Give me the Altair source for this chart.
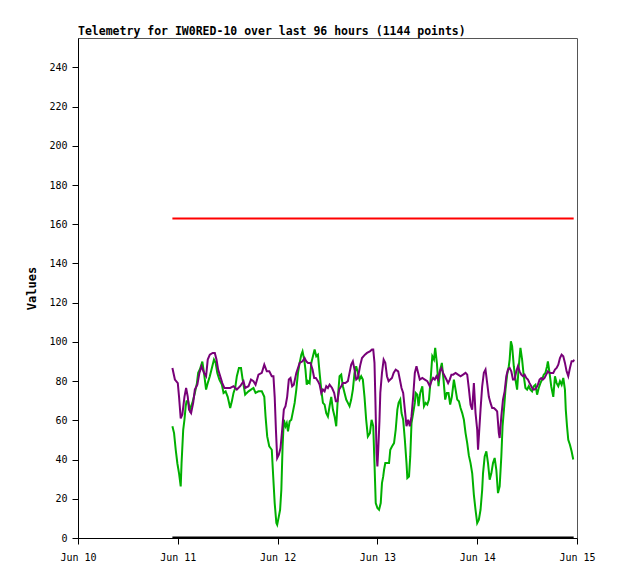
import altair as alt
import pandas as pd

# hours since Jun 10 00:00
P_H = [22.7,23.3,24.0,24.3,24.7,25.1,25.6,26.0,26.4,26.7,27.2,27.7,28.1,28.7,29.2,29.7,30.3,30.8,31.2,31.7,
       32.4,32.9,33.3,33.7,34.2,34.7,35.2,35.8,36.6,37.4,38.2,39.0,39.8,40.2,41.0,41.6,42.2,42.7,43.4,44.2,
       44.8,45.4,46.0,46.6,47.0,47.3,47.6,47.9,48.3,48.7,49.1,49.5,49.9,50.3,50.7,51.1,51.5,51.9,52.5,52.9,
       53.3,54.0,54.5,54.9,55.3,55.9,56.4,56.8,57.2,57.7,58.1,58.5,58.9,59.3,59.7,60.1,60.5,61.1,61.6,62.0,
       62.4,62.8,63.3,63.7,64.3,64.9,65.3,65.7,66.1,66.5,66.9,67.3,67.9,68.3,69.0,69.5,70.2,70.7,71.0,71.3,
       71.5,71.8,72.0,72.2,72.5,72.7,73.1,73.5,73.9,74.3,74.7,75.1,75.5,75.9,76.4,77.0,77.4,77.8,78.2,78.6,
       79.0,79.4,79.8,80.2,80.6,81.0,81.4,81.8,82.2,82.8,83.4,84.0,84.6,85.0,85.4,85.8,86.2,86.6,87.0,87.4,
       87.8,88.2,88.6,89.0,89.4,89.8,90.2,90.8,91.4,92.0,92.6,93.2,93.6,94.0,94.4,94.8,95.2,95.6,96.0,96.2,
       96.5,96.8,97.2,97.6,98.0,98.4,98.8,99.2,99.6,100.0,100.4,100.8,101.2,101.4,101.8,102.2,102.6,103.0,
       103.4,103.8,104.2,104.6,105.0,105.4,105.8,106.2,106.6,107.0,107.4,107.8,108.2,108.6,109.0,109.4,
       109.8,110.2,110.6,111.0,111.4,111.8,112.2,112.6,113.0,113.4,113.8,114.3,114.7,115.1,115.5,115.9,
       116.3,116.7,117.1,117.5,117.9,118.3,118.7,119.1,119.3]
P_V = [86.7,80.8,79,72,61,63,72,76.5,72,65.5,63.7,68.9,75.7,78.2,84.2,87.6,84.2,82.5,91,93.5,
       94.4,94.4,91,85.9,82.5,79,76.5,76.5,76.5,77.4,75.7,77.4,80,76.5,77.4,80.8,80,78.2,83.3,84.2,
       88.4,85,85,82.5,82.5,72,55,40.8,42.5,45.9,55.2,65.5,67.2,72,80.8,81.6,77.4,78.2,84.2,86.7,
       89.3,90.1,91.8,90.1,89.3,89.3,85.9,81.6,81.6,80,78.2,74,75.7,74.8,77.4,76.5,78.2,76.5,74,69.7,
       69.7,75.7,77.4,79,79,80,84.2,88.4,90.1,85.9,80.8,81.6,88.4,91.8,93.5,94.4,95.2,96.1,96.1,89.3,
       72,43.3,36.5,45,60,74,84.2,91,89.3,82.5,80,80.8,81.6,84.2,85.9,85,80.8,76.5,74,65.5,
       57,60.3,57,62,72,84.2,87.6,84.2,80.8,81.6,80.8,80,77.4,80,81.6,80.8,82.5,80.8,85,86.7,
       84.2,82.5,80.8,79,80.8,83.3,83.3,84.2,83.3,82.5,83.3,84.2,83.3,76,68,65.5,79,63.7,55.2,45,
       55.2,65.5,77.4,84.2,85.9,79,72,68.9,66.3,66.3,65.5,64.6,53.5,51,62,70.6,74.8,82.5,
       85.9,86.7,85,80.8,80.8,85,87.6,85,83.3,82.5,83.3,81.6,80.8,79,77.4,75.7,
       75.7,76.5,78.2,80.8,81.6,80.8,81.6,83.3,85,84.2,84.2,84.2,85.9,86.7,88.4,91.8,
       93.5,92.7,89.3,85,82.5,86.7,90.1,90.1,91]

G_H = [22.7,23.1,23.5,23.9,24.3,24.7,24.9,25.3,25.6,25.9,26.1,26.5,26.9,27.5,28.1,28.6,28.9,29.3,29.9,30.3,
       30.8,31.2,31.7,32.3,32.7,33.1,33.5,34.0,34.6,35.0,35.5,36.0,36.6,37.0,37.4,37.8,38.2,38.7,39.2,39.6,
       40.2,40.6,41.0,41.6,42.2,42.7,43.4,44.2,44.8,45.1,45.5,46.0,46.6,46.9,47.3,47.7,47.9,48.3,48.6,48.9,
       49.2,49.5,49.9,50.2,50.5,50.9,51.3,51.7,52.1,52.5,52.9,53.3,53.7,54.0,54.4,54.7,55.0,55.3,55.7,56.1,
       56.5,56.9,57.3,57.7,58.1,58.5,58.9,59.3,59.7,60.1,60.5,60.9,61.3,61.7,62.1,62.5,62.9,63.3,63.7,64.1,
       64.5,64.9,65.3,65.7,66.1,66.5,66.9,67.3,67.7,68.1,68.5,68.9,69.3,69.7,70.2,70.6,71.0,71.3,71.6,72.0,
       72.4,72.8,73.1,73.4,73.6,73.9,74.4,74.8,75.1,75.5,76.0,76.4,76.8,77.1,77.5,77.8,78.2,78.6,79.0,79.2,
       79.6,79.9,80.2,80.6,81.0,81.2,81.6,81.9,82.3,82.8,83.2,83.6,84.0,84.4,84.8,85.2,85.6,85.9,86.3,86.7,
       87.1,87.5,87.9,88.3,88.7,89.1,89.5,89.9,90.4,90.8,91.2,91.6,92.0,92.4,92.8,93.2,93.6,94.0,94.4,94.8,
       95.2,95.6,96.0,96.4,96.8,97.2,97.4,97.8,98.2,98.6,99.0,99.4,99.8,100.2,100.6,101.0,101.4,101.8,102.1,
       102.5,102.8,103.2,103.6,103.8,104.1,104.4,104.8,105.2,105.6,106.0,106.4,106.8,107.2,107.6,108.0,
       108.4,108.8,109.2,109.6,110.0,110.4,110.8,111.2,111.6,112.0,112.4,112.8,113.0,113.4,113.8,114.3,
       114.7,115.1,115.5,115.9,116.3,116.7,117.1,117.3,117.6,117.9,118.3,118.7,119.1]
G_V = [57,53.5,45,38,33,26.3,38,55.2,60.3,67.2,69.7,69.7,65.5,68.9,74,79,84.2,85.9,90,84.2,
       75.7,79,82.5,87.6,91,89.3,84.2,80.8,78.2,74,74.8,72,66.3,69.7,74,76.5,82.5,86.7,86.7,80.8,
       73.1,74,74.8,75.7,76.5,74,74.8,74.8,72,62,51.8,46.7,45,33,17.8,7.6,6.7,11,14.4,24.6,
       46.7,60.3,57,58.6,54.4,59.5,60.3,64.6,68.9,75.7,84.2,89.3,93.5,95.2,91,85.9,78.2,80,79,89.3,
       92.7,96.1,92.7,93.5,84.2,75.7,68.9,68,63.7,62,67.2,72,65.5,62,57,72,82.5,83.3,77.4,74,
       70.6,68.9,67.2,70.6,75.7,84.2,87.6,84.2,80.8,82.5,80.8,72,60.3,51.8,53.5,60.3,57,38,17.8,15.3,
       14.4,17.8,28,31.4,34.8,38.2,38.2,38.2,45,46.7,48.4,55.2,65.5,68.9,70.6,63.7,60.3,50.1,38.2,30.6,
       31.4,41.6,58.6,63.7,68.9,74,73.1,67.2,74,77.4,67.2,68.9,68,70.6,80.8,92.7,91,97,89.3,77.4,
       85.9,89.3,80.8,70.6,74,74,68,72,80.8,75.7,70.6,69.7,66.3,63.7,60.3,53.5,48.4,42,38.2,33,
       22,14.4,7.6,9.3,14.4,24.6,33,41.6,44.2,38.2,29.7,33,38.2,40.8,34.8,22.9,26.3,41.6,57,
       67.2,75.7,83.3,87.6,91,100.3,97.8,87.6,80.8,75.7,87.6,97,91,82.5,76.5,75.7,
       77.4,75.7,74.8,77.4,78.2,73.1,76.5,79,80.8,83.3,84.2,87.6,90.1,84.2,77.4,72,
       82.5,79,77.4,80,78.2,81.6,75.7,65.5,57,50.1,47.6,44.2,40]

R_H = [22.7, 119.2]
R_V = [163, 163]
K_H = [22.7, 119.2]
K_V = [0, 0]

BASE = pd.Timestamp("2023-06-10 00:00:00")


def frame(hours, values):
    t = [(BASE + pd.Timedelta(hours=h)).strftime("%Y-%m-%dT%H:%M:%S") for h in hours]
    return pd.DataFrame({"t": t, "v": values})


FONT = "DejaVu Sans Mono"

x_enc = alt.X(
    "t:T",
    scale=alt.Scale(domain=[alt.DateTime(year=2023, month=6, date=10),
                            alt.DateTime(year=2023, month=6, date=15)]),
    axis=alt.Axis(title=None, format="%b %d", tickCount={"interval": "day", "step": 1},
                  grid=False, tickSize=6, tickColor="black", domainColor="black",
                  labelFont=FONT, labelFontSize=10, labelColor="black", labelPadding=8,
                  labelFlush=False, labelOverlap=False),
)
y_enc = alt.Y(
    "v:Q",
    scale=alt.Scale(domain=[0, 255], nice=False, zero=True),
    axis=alt.Axis(title="Values", values=list(range(0, 241, 20)), grid=False, tickSize=6,
                  tickColor="black", domainColor="black", labelFont=FONT, labelFontSize=10,
                  labelColor="black", labelPadding=5, titleFont=FONT, titleFontSize=12,
                  titleFontWeight="bold", titleColor="black", titlePadding=10),
)


def line(df, color, width=2):
    return alt.Chart(df).mark_line(color=color, strokeWidth=width, clip=True).encode(x=x_enc, y=y_enc)


chart = alt.layer(
    line(frame(R_H, R_V), "#ff0000"),
    line(frame(G_H, G_V), "#00b000"),
    line(frame(P_H, P_V), "#780078"),
    line(frame(K_H, K_V), "#000000", 3),
).properties(
    width=499,
    height=500,
    title=alt.TitleParams("Telemetry for IW0RED-10 over last 96 hours (1144 points)",
                          anchor="start", frame="group", font=FONT, fontSize=11.5,
                          fontWeight="bold", color="black", offset=1),
    autosize=alt.AutoSizeParams(type="none"),
    padding={"left": 70, "top": 30, "right": 30, "bottom": 30},
).configure_view(stroke="#555555", strokeWidth=1)

chart.save("out.html", embed_options={"renderer": "svg", "actions": False})
